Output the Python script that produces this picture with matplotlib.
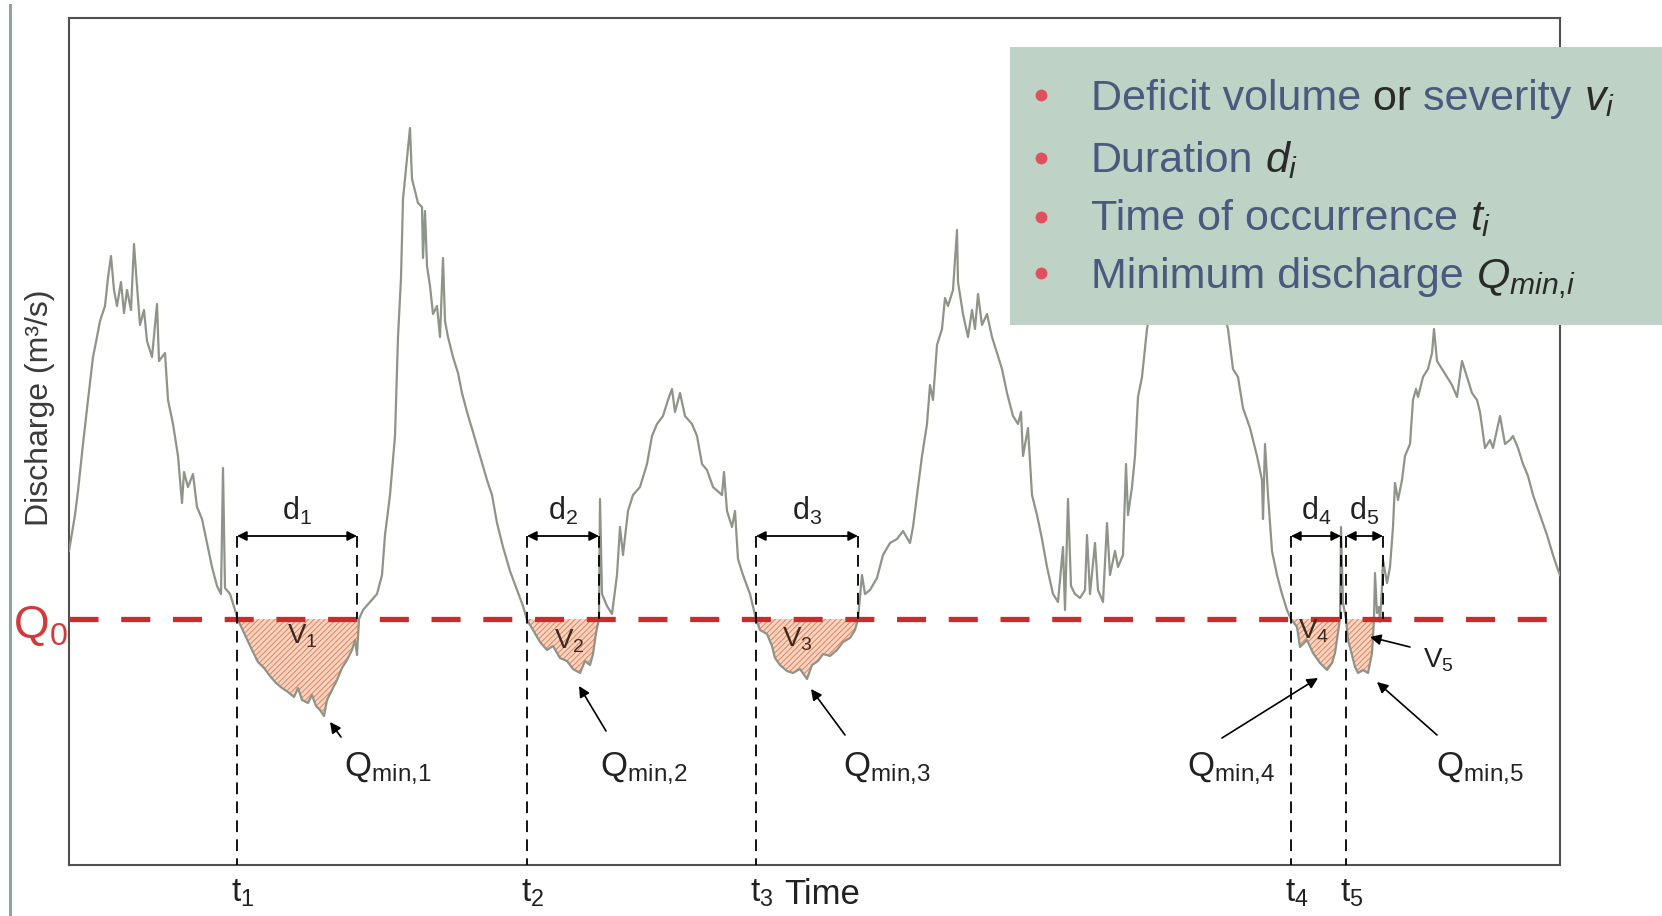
import matplotlib.pyplot as plt
import numpy as np
from matplotlib.lines import Line2D
from matplotlib.patches import Rectangle

plt.rcParams['font.family'] = ['Liberation Sans', 'DejaVu Sans']
plt.rcParams['mathtext.fontset'] = 'custom'
plt.rcParams['mathtext.rm'] = 'Liberation Sans'
plt.rcParams['mathtext.it'] = 'Liberation Sans:italic'
plt.rcParams['hatch.linewidth'] = 0.75

# hydrograph: time in days, discharge in 1/100 units
day = [0, 6, 9, 14, 19, 24, 28, 31, 36, 39, 42, 45, 48, 52, 55, 58, 62, 65, 68, 71,
       75, 78, 83, 88, 90, 96, 99, 104, 109, 113, 115, 119, 124, 128, 133, 138, 143, 148, 152, 154,
       156, 161, 166, 169,
       176, 183, 189, 195, 201, 207, 213, 219, 225, 229, 233, 239, 243, 247, 251, 255, 258, 263, 268, 273,
       278, 283, 286, 288, 290,
       294, 301, 308, 313, 316, 321, 326, 329, 332, 334, 338, 341, 343, 346, 349, 353, 354, 356, 358, 361,
       364, 368, 371, 374, 376, 379, 384, 389, 393, 398, 404, 411, 418, 423, 428, 434, 441, 448, 454, 458,
       464, 471, 478, 484, 491, 498, 504, 511, 516, 521, 524, 527, 530,
       531, 533, 538, 543, 548, 551, 554, 559, 564, 571, 578, 583, 588, 594, 599, 603, 606, 611, 616, 623,
       628, 633, 638, 644, 653, 655, 658, 663, 666, 669, 674, 681, 687,
       691, 698, 703, 706, 711, 718, 724, 731, 738, 743, 749, 754, 761, 768, 774, 781, 786, 789,
       793, 796, 801, 808, 814, 821, 828, 834, 841, 844, 848, 853, 858, 861, 864, 868, 873, 876, 879, 884,
       888, 889, 894, 899, 903, 906, 909, 913, 918, 923, 928, 933, 938, 944, 949, 952, 954, 959, 963, 968,
       973, 978, 984, 989, 994, 996, 999, 1002, 1006, 1011, 1016, 1018, 1021, 1026, 1029, 1034, 1038, 1041,
       1046, 1049, 1054, 1057, 1059, 1063, 1066, 1069, 1073, 1078,
       1096, 1121, 1141, 1159,
       1164, 1169, 1174, 1181, 1188, 1193, 1194, 1196, 1199, 1203, 1208, 1213, 1218, 1222,
       1228, 1231, 1238, 1244, 1251, 1258, 1263, 1266, 1269, 1271, 1272, 1274, 1277,
       1279, 1283, 1286, 1289, 1294, 1299, 1303, 1305, 1306, 1308, 1310, 1311, 1313, 1314,
       1318, 1321, 1324, 1326, 1329, 1333, 1336, 1341, 1344, 1347, 1349, 1354, 1359, 1363, 1365, 1368,
       1373, 1378, 1383, 1388, 1393, 1398, 1403, 1408, 1411, 1416, 1421, 1424, 1431, 1436, 1441, 1444,
       1449, 1454, 1459, 1464, 1471, 1478, 1484, 1489, 1491]
flow = [314, 350, 374, 421, 465, 508, 528, 544, 559, 587, 609, 575, 559, 583, 552, 575, 555, 621, 579, 540,
        555, 524, 508, 561, 504, 512, 465, 441, 409, 362, 393, 378, 391, 358, 346, 322, 298, 279, 271, 397,
        277, 271, 255, 245,
        230, 215, 203, 197, 189, 182, 177, 173, 168, 177, 165, 162, 170, 159, 155, 149, 165, 175, 185, 197,
        205, 215, 225, 210, 246,
        255, 263, 271, 290, 330, 370, 429, 528, 587, 666, 706, 737, 686, 674, 662, 658, 607, 654, 599, 579,
        551, 559, 528, 607, 544, 528, 508, 492, 472, 453, 433, 409, 385, 370, 342, 318, 294, 275, 259, 245,
        235, 223, 215, 219, 207, 204, 196, 192, 204, 200, 211, 232, 246,
        366, 271, 259, 251, 290, 338, 310, 354, 370, 378, 401, 429, 441, 449, 465, 476, 453, 472, 449, 441,
        429, 401, 395, 378, 370, 393, 354, 338, 354, 306, 290, 271, 246,
        235, 231, 219, 207, 200, 194, 192, 196, 186, 200, 204, 211, 209, 215, 223, 227, 235, 246,
        290, 271, 275, 287, 310, 322, 326, 334, 322, 338, 370, 409, 441, 480, 465, 520, 536, 567, 559, 575,
        635, 583, 551, 528, 555, 536, 571, 540, 551, 528, 512, 496, 472, 449, 441, 453, 409, 437, 370, 350,
        326, 298, 271, 263, 318, 255, 366, 279, 271, 267, 275, 330, 271, 322, 275, 263, 342, 290,
        314, 298, 310, 401, 350, 378, 409, 468, 488, 536,
        635, 675, 605, 536,
        496, 488, 457, 437, 409, 385, 346, 421, 370, 314, 290, 271, 255, 246,
        238, 218, 225, 212, 202, 195, 202, 212, 232, 246, 338, 262, 246,
        225, 210, 198, 192, 195, 192, 212, 246, 292, 252, 258, 243, 278, 305,
        282, 298, 338, 382, 365, 385, 409, 421, 465, 476, 468, 488, 496, 512, 536, 504,
        496, 488, 480, 468, 504, 488, 472, 465, 453, 417, 425, 417, 449, 421, 425, 429,
        417, 401, 389, 370, 350, 330, 310, 295, 290]

Q0 = 2.46

# drought events
event_ids = ['1', '2', '3', '4', '5']
t_start = [168, 458, 687, 1222, 1277]
t_end = [288, 530, 789, 1272, 1314]
d_level = 3.29
v_pos = [(233, 2.29), (500, 2.24), (728, 2.26), (1245, 2.34)]
qmin_text = [(275, 0.89), (531, 0.89), (774, 0.89), (1118, 0.89), (1367, 0.89)]
qmin_tail = [(272, 1.28), (537, 1.34), (776, 1.30), (1153, 1.27), (1368, 1.30)]
qmin_tip = [(261, 1.43), (510, 1.79), (742, 1.76), (1249, 1.87), (1308, 1.83)]

W, H = 1662, 916
fig = plt.figure(figsize=(W / 100, H / 100), dpi=100)
ax = fig.add_axes([69 / W, 51 / H, 1491 / W, 847 / H])

t = np.array(day, dtype=float)
q = np.array(flow) / 100

ax.fill_between(t, q, Q0, where=q < Q0, interpolate=True, facecolor='#f9d6c2',
                edgecolor='#e8825f', hatch='//////', linewidth=0, zorder=2)
ax.plot(t, q, color='#8e9488', lw=1.6, zorder=3)
ax.axhline(Q0, color='#cc2b2b', lw=3.8, dashes=(5.5, 4.3), zorder=4)

dash_kw = dict(color='black', lw=1.3, dashes=(6.5, 4), zorder=5)
for i, (s, e) in enumerate(zip(t_start, t_end)):
    ax.plot([s, s], [d_level, 0], **dash_kw)
    ax.plot([e, e], [d_level, Q0], **dash_kw)
    ax.annotate('', xy=(e, d_level), xytext=(s, d_level),
                arrowprops=dict(arrowstyle='<|-|>', color='black', lw=1.3,
                                mutation_scale=14, shrinkA=0, shrinkB=0), zorder=6)
    ax.text((s + e) / 2, d_level + 0.09, r'$\mathrm{d}_{%s}$' % event_ids[i],
            fontsize=22, ha='center', va='bottom', color='#222222', zorder=6)
    ax.text(s - 6, -0.13, r'$\mathrm{t}_{%s}$' % event_ids[i], fontsize=24,
            ha='left', va='top', color='#222222', clip_on=False)
    tx, ty = qmin_text[i]
    ax.text(tx, ty, r'$\mathrm{Q}_{\mathrm{min{,}%s}}$' % event_ids[i], fontsize=25,
            ha='left', va='baseline', color='#222222', zorder=6)
    ax.annotate('', xy=qmin_tip[i], xytext=qmin_tail[i],
                arrowprops=dict(arrowstyle='-|>', color='black', lw=1.2,
                                mutation_scale=16, shrinkA=0, shrinkB=0), zorder=6)

for i, (vx, vy) in enumerate(v_pos):
    ax.text(vx, vy, r'$\mathrm{V}_{%s}$' % event_ids[i], fontsize=20,
            ha='center', va='center', color='#3a2a22', zorder=6)
ax.text(1369, 2.05, r'$\mathrm{V}_{5}$', fontsize=20, ha='center', va='center', color='#222222')
ax.annotate('', xy=(1301, 2.28), xytext=(1341, 2.18),
            arrowprops=dict(arrowstyle='-|>', color='black', lw=1.2,
                            mutation_scale=16, shrinkA=0, shrinkB=0), zorder=6)

ax.text(715, -0.13, 'Time', fontsize=25, ha='left', va='top', color='#222222', clip_on=False)
ax.text(-56, 2.27, r'$\mathrm{Q}_0$', fontsize=33, ha='left', va='baseline',
        color='#d23a3a', clip_on=False)

ax.set_xlim(0, 1491)
ax.set_ylim(0, 8.47)
ax.set_xticks([])
ax.set_yticks([])
for sp in ax.spines.values():
    sp.set_color('#505050')
    sp.set_linewidth(1.5)

fig.text(40 / W, 1 - 408 / H, 'Discharge (m³/s)', rotation=90, fontsize=23,
         ha='center', va='center', color='#3a3a3a')
fig.add_artist(Line2D([10 / W, 10 / W], [0, 1 - 5 / H], color='#8fa3a3', lw=2.2,
                      transform=fig.transFigure))

# info box on the upper right
fig.add_artist(Rectangle((1010 / W, 1 - 325 / H), 652 / W, 278 / H, transform=fig.transFigure,
                         facecolor='#bed2c6', edgecolor='none', zorder=5))
slate = '#4a5a7e'
dark = '#2a2a2a'
rows = [
    [('Deficit volume', slate, 0), (' or', dark, 0), (' severity', slate, 0), (r'$v_i$', dark, 12)],
    [('Duration', slate, 0), (r'$d_i$', dark, 12)],
    [('Time of occurrence', slate, 0), (r'$t_i$', dark, 12)],
    [('Minimum discharge', slate, 0), (r'$Q_{min{,}i}$', dark, 12)],
]
baselines = [110, 172, 230, 288]
bullets = [95, 158, 217, 273]

fig.canvas.draw()
renderer = fig.canvas.get_renderer()
for row, base, by in zip(rows, baselines, bullets):
    fig.add_artist(Line2D([1041 / W], [1 - by / H], marker='o', ms=7.5, color='#e0505e',
                          transform=fig.transFigure, zorder=6))
    x = 1091
    for s, col, gap in row:
        x += gap
        txt = fig.text(x / W, 1 - base / H, s, color=col, fontsize=31,
                       ha='left', va='baseline', zorder=6)
        x = txt.get_window_extent(renderer).x1

fig.savefig('out.png')
